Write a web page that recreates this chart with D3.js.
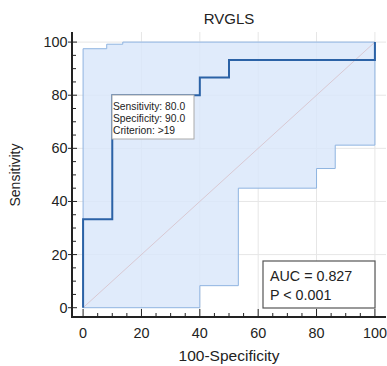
<!DOCTYPE html>
<html>
<head>
<meta charset="utf-8">
<script src="https://cdn.jsdelivr.net/npm/d3@7"></script>
<style>
  body { margin: 0; background: #fff; }
  text { font-family: "Liberation Sans", Arial, sans-serif; fill: #222; }
</style>
</head>
<body>
<div id="chart"></div>
<script>
"use strict";

// ROC step curve (100-specificity, sensitivity)
const rocX = [0, 0, 10, 10, 40, 40, 50, 50, 100, 100];
const rocY = [0, 33.3, 33.3, 80, 80, 86.7, 86.7, 93.3, 93.3, 100];

// confidence band, upper and lower edges
const upperX = [0, 8.1, 8.1, 13.6, 13.6, 100];
const upperY = [97.5, 97.5, 99.2, 99.2, 100, 100];
const lowerX = [0, 40, 40, 53.2, 53.2, 80, 80, 86.4, 86.4, 100, 100];
const lowerY = [0, 0, 8.3, 8.3, 45, 45, 52.4, 52.4, 61.2, 61.2, 100];

const ticks = [0, 20, 40, 60, 80, 100];
const minorTicks = d3.range(0, 101, 5).filter(d => d % 20 != 0);
const tipLines = ["Sensitivity: 80.0", "Specificity: 90.0", "Criterion: >19"];
const statLines = ["AUC = 0.827", "P < 0.001"];

const msm = { width: 387, height: 366 };

let svg = d3.select("#chart").append("svg")
    .attr("width", msm.width)
    .attr("height", msm.height);

let xScale = d3.scaleLinear().domain([-3.8, 103.8]).range([72, 386]);
let yScale = d3.scaleLinear().domain([-3.5, 103.8]).range([317, 32]);

// grid
svg.selectAll(".vgrid").data(ticks.slice(1)).enter().append("line")
    .attr("x1", d => xScale(d)).attr("x2", d => xScale(d))
    .attr("y1", yScale.range()[1]).attr("y2", yScale.range()[0])
    .attr("stroke", "#e6e6e6").attr("stroke-width", 1);
svg.selectAll(".hgrid").data(ticks.slice(1)).enter().append("line")
    .attr("y1", d => yScale(d)).attr("y2", d => yScale(d))
    .attr("x1", xScale.range()[0]).attr("x2", xScale.range()[1])
    .attr("stroke", "#e6e6e6").attr("stroke-width", 1);

// band
let bandPts = upperX.map((x, i) => [x, upperY[i]])
    .concat(lowerX.map((x, i) => [x, lowerY[i]]).reverse());
svg.append("path")
    .attr("d", d3.line().x(d => xScale(d[0])).y(d => yScale(d[1]))(bandPts) + "Z")
    .attr("fill", "#d9e7fa")
    .attr("fill-opacity", 0.82)
    .attr("stroke", "#8fb4e0")
    .attr("stroke-width", 1);

// diagonal
svg.append("line")
    .attr("x1", xScale(0)).attr("y1", yScale(0))
    .attr("x2", xScale(100)).attr("y2", yScale(100))
    .attr("stroke", "#d9c9d3").attr("stroke-width", 1);

// ROC curve
svg.append("path")
    .datum(rocX.map((x, i) => [x, rocY[i]]))
    .attr("d", d3.line().x(d => xScale(d[0])).y(d => yScale(d[1])))
    .attr("fill", "none")
    .attr("stroke", "#2b62a6")
    .attr("stroke-width", 2);

// axes
let xAxis = svg.append("g").attr("transform", "translate(0," + 317 + ")");
xAxis.append("line").attr("x1", 72).attr("x2", 386).attr("stroke", "#222").attr("stroke-width", 2);
xAxis.selectAll(".minor").data(minorTicks).enter().append("line")
    .attr("x1", d => xScale(d)).attr("x2", d => xScale(d)).attr("y1", 0).attr("y2", -4)
    .attr("stroke", "#222");
xAxis.selectAll(".major").data(ticks).enter().append("line")
    .attr("x1", d => xScale(d)).attr("x2", d => xScale(d)).attr("y1", 1).attr("y2", -8)
    .attr("stroke", "#222");
xAxis.selectAll(".lab").data(ticks).enter().append("text")
    .attr("x", d => xScale(d)).attr("y", 21)
    .attr("text-anchor", "middle").style("font-size", "14.4px")
    .text(d => d);

let yAxis = svg.append("g").attr("transform", "translate(72,0)");
yAxis.append("line").attr("y1", 32).attr("y2", 318).attr("stroke", "#222").attr("stroke-width", 2);
yAxis.selectAll(".minor").data(minorTicks).enter().append("line")
    .attr("y1", d => yScale(d)).attr("y2", d => yScale(d)).attr("x1", 0).attr("x2", 4)
    .attr("stroke", "#222");
yAxis.selectAll(".major").data(ticks).enter().append("line")
    .attr("y1", d => yScale(d)).attr("y2", d => yScale(d)).attr("x1", -4).attr("x2", 5)
    .attr("stroke", "#222");
yAxis.selectAll(".lab").data(ticks).enter().append("text")
    .attr("x", -4.5).attr("y", d => yScale(d) + 5)
    .attr("text-anchor", "end").style("font-size", "14.4px")
    .text(d => d);

// labels
svg.append("text").attr("x", 229).attr("y", 24).attr("text-anchor", "middle")
    .style("font-size", "15px").text("RVGLS");
svg.append("text").attr("x", 229).attr("y", 361).attr("text-anchor", "middle")
    .style("font-size", "15.5px").text("100-Specificity");
svg.append("text").attr("transform", "translate(20,175) rotate(-90)").attr("text-anchor", "middle")
    .style("font-size", "14px").text("Sensitivity");

// criterion tooltip
let tip = svg.append("g");
tip.append("rect").attr("x", 112).attr("y", 95).attr("width", 82).attr("height", 44)
    .attr("fill", "#fff").attr("stroke", "#aaa").attr("stroke-width", 1);
tip.selectAll("text").data(tipLines).enter().append("text")
    .attr("x", 113).attr("y", (d, i) => 109.5 + i * 12.3)
    .style("font-size", "10.3px").text(d => d);

// AUC box
let stat = svg.append("g");
stat.append("rect").attr("x", 263).attr("y", 261).attr("width", 112).attr("height", 47)
    .attr("fill", "#fff").attr("stroke", "#555").attr("stroke-width", 1.2);
stat.selectAll("text").data(statLines).enter().append("text")
    .attr("x", 270).attr("y", (d, i) => 281 + i * 18.5)
    .style("font-size", "14.3px").text(d => d);
</script>
</body>
</html>
